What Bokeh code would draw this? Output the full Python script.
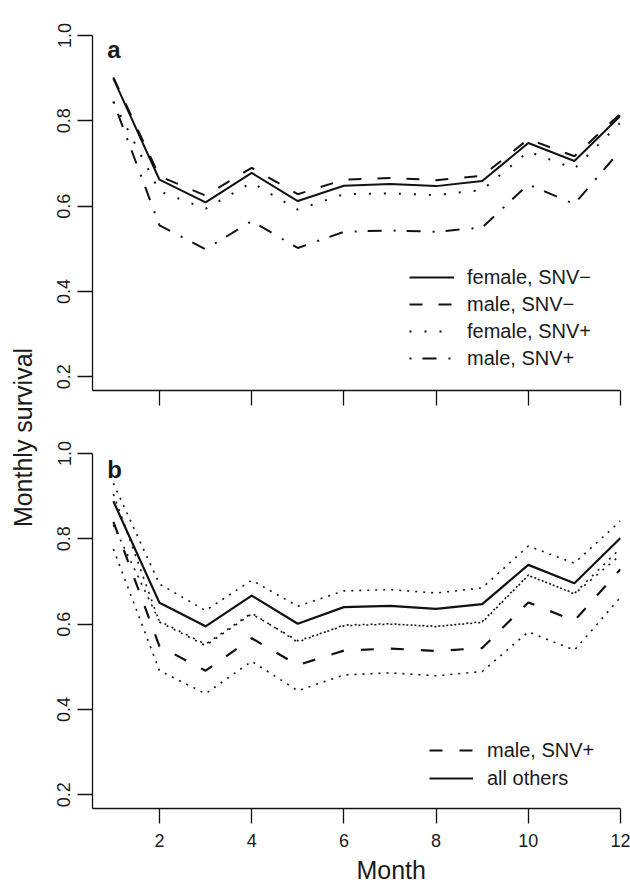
import math
from bokeh.plotting import figure
from bokeh.layouts import row, column
from bokeh.models import (Range1d, FixedTicker, PrintfTickFormatter, Legend,
                          LegendItem, Label)
from bokeh.embed import file_html
from bokeh.resources import INLINE

# ---------------- data ----------------
months = [1, 2, 3, 4, 5, 6, 7, 8, 9, 10, 11, 12]
x_ticks = [2, 4, 6, 8, 10, 12]
y_ticks = [0.2, 0.4, 0.6, 0.8, 1.0]

# panel a: monthly survival by sex and SNV status
a_female_snv_neg = [0.899, 0.662, 0.609, 0.678, 0.612, 0.648, 0.652, 0.647, 0.659, 0.748, 0.706, 0.812]
a_male_snv_neg   = [0.902, 0.670, 0.625, 0.690, 0.628, 0.662, 0.666, 0.661, 0.671, 0.757, 0.717, 0.817]
a_female_snv_pos = [0.845, 0.635, 0.594, 0.655, 0.592, 0.628, 0.630, 0.626, 0.638, 0.728, 0.688, 0.796]
a_male_snv_pos   = [0.845, 0.555, 0.499, 0.565, 0.502, 0.540, 0.543, 0.540, 0.550, 0.651, 0.605, 0.731]

# panel b: male SNV+ vs all others, with confidence bounds
b_others       = [0.888, 0.650, 0.595, 0.667, 0.601, 0.640, 0.643, 0.636, 0.647, 0.739, 0.696, 0.802]
b_others_upper = [0.930, 0.694, 0.632, 0.703, 0.642, 0.678, 0.681, 0.673, 0.685, 0.783, 0.743, 0.842]
b_others_lower = [0.832, 0.607, 0.553, 0.626, 0.558, 0.598, 0.601, 0.594, 0.606, 0.715, 0.671, 0.762]
b_male         = [0.840, 0.548, 0.491, 0.567, 0.504, 0.538, 0.543, 0.537, 0.544, 0.651, 0.608, 0.729]
b_male_upper   = [0.905, 0.605, 0.550, 0.624, 0.561, 0.596, 0.600, 0.595, 0.604, 0.714, 0.672, 0.778]
b_male_lower   = [0.776, 0.491, 0.437, 0.513, 0.444, 0.481, 0.486, 0.479, 0.489, 0.582, 0.539, 0.663]

FONT = "Liberation Sans"
INK = "#111111"
TXT = "#1a1a1a"


def make_panel(height, border_top, border_bottom, show_x_labels):
    p = figure(width=586, height=height,
               x_range=Range1d(0.547, 12.0), y_range=Range1d(0.168, 1.0),
               output_backend="svg", toolbar_location=None,
               min_border_left=48, min_border_right=10,
               min_border_top=border_top, min_border_bottom=border_bottom)
    p.outline_line_color = None
    p.grid.visible = False
    p.background_fill_color = "white"
    p.border_fill_color = "white"
    for ax in (p.xaxis[0], p.yaxis[0]):
        ax.axis_line_color = INK
        ax.axis_line_width = 1.3
        ax.major_tick_line_color = INK
        ax.major_tick_line_width = 1.3
        ax.major_tick_out = 15
        ax.major_tick_in = 0
        ax.minor_tick_line_color = None
        ax.major_label_text_font = FONT
        ax.major_label_text_color = TXT
        ax.major_label_text_font_size = "18px"
    p.xaxis.ticker = FixedTicker(ticks=x_ticks)
    p.yaxis.ticker = FixedTicker(ticks=y_ticks)
    p.yaxis.formatter = PrintfTickFormatter(format="%.1f")
    p.yaxis.major_label_orientation = "vertical"
    p.yaxis.major_label_standoff = 7
    p.xaxis.major_label_standoff = 10
    if not show_x_labels:
        p.xaxis.major_label_text_font_size = "0px"
        p.xaxis.major_label_text_color = None
    return p


# ---------------- panel a ----------------
pa = make_panel(419, 35, 29, False)
r1 = pa.line(months, a_female_snv_neg, line_color=INK, line_width=2, line_join="round")
r2 = pa.line(months, a_male_snv_neg, line_color=INK, line_width=2, line_dash="13 16")
r3 = pa.line(months, a_female_snv_pos, line_color=INK, line_width=2, line_dash="2 13")
r4 = pa.line(months, a_male_snv_pos, line_color=INK, line_width=2, line_dash="2 11 14 12")
leg_a = Legend(items=[LegendItem(label="female, SNV\u2212", renderers=[r1]),
                      LegendItem(label="male, SNV\u2212", renderers=[r2]),
                      LegendItem(label="female, SNV+", renderers=[r3]),
                      LegendItem(label="male, SNV+", renderers=[r4])],
               location=(317, 20), glyph_width=45, glyph_height=24, label_height=24,
               spacing=3, padding=0, margin=0, label_standoff=13,
               label_text_font=FONT, label_text_font_size="20px", label_text_color=TXT,
               border_line_alpha=0, background_fill_alpha=0)
pa.add_layout(leg_a)
pa.add_layout(Label(x=0.866, y=0.9665, text="a", text_font=FONT, text_font_size="24px",
                    text_font_style="bold", text_align="left", text_baseline="alphabetic",
                    text_color=TXT))

# ---------------- panel b ----------------
pb = make_panel(470, 34, 81, True)
for series in (b_others_upper, b_others_lower, b_male_upper, b_male_lower):
    pb.line(months, series, line_color=INK, line_width=1.6, line_dash="2 6")
s1 = pb.line(months, b_male, line_color=INK, line_width=2.2, line_dash="13 17")
s2 = pb.line(months, b_others, line_color=INK, line_width=2.2, line_join="round")
leg_b = Legend(items=[LegendItem(label="male, SNV+", renderers=[s1]),
                      LegendItem(label="all others", renderers=[s2])],
               location=(337, 18), glyph_width=44, glyph_height=24, label_height=24,
               spacing=4, padding=0, margin=0, label_standoff=14,
               label_text_font=FONT, label_text_font_size="20px", label_text_color=TXT,
               border_line_alpha=0, background_fill_alpha=0)
pb.add_layout(leg_b)
pb.add_layout(Label(x=0.866, y=0.9635, text="b", text_font=FONT, text_font_size="24px",
                    text_font_style="bold", text_align="left", text_baseline="alphabetic",
                    text_color=TXT))
pb.xaxis.axis_label = "\u00a0" * 10 + "Month"
pb.xaxis.axis_label_text_font = FONT
pb.xaxis.axis_label_text_font_size = "25px"
pb.xaxis.axis_label_text_font_style = "normal"
pb.xaxis.axis_label_text_color = TXT
pb.xaxis.axis_label_standoff = 6

# ---------------- shared y label ----------------
pl = figure(width=44, height=889, x_range=Range1d(0, 44), y_range=Range1d(0, 889),
            output_backend="svg", toolbar_location=None,
            x_axis_location=None, y_axis_location=None, min_border=0)
pl.outline_line_color = None
pl.grid.visible = False
pl.add_layout(Label(x=22, y=452, x_units="screen", y_units="screen", text="Monthly survival",
                    angle=math.pi / 2, text_font=FONT, text_font_size="25px",
                    text_align="center", text_baseline="middle", text_color=TXT))

layout = row(pl, column(pa, pb, spacing=0), spacing=0)
open("out.html", "w").write(file_html(layout, INLINE))
